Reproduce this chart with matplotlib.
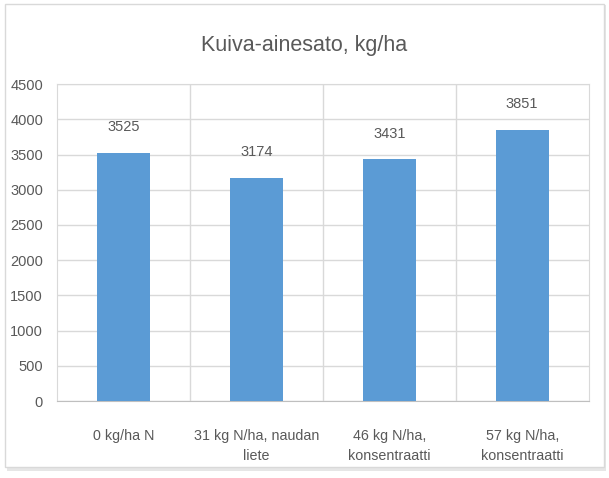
import matplotlib.pyplot as plt
from matplotlib.patches import Rectangle

plt.rcParams['font.family'] = ['Liberation Sans Narrow', 'Liberation Sans', 'DejaVu Sans']

categories = ['0 kg/ha N', '31 kg N/ha, naudan\nliete',
              '46 kg N/ha,\nkonsentraatti', '57 kg N/ha,\nkonsentraatti']
values = [3525, 3174, 3431, 3851]
yticks = [0, 500, 1000, 1500, 2000, 2500, 3000, 3500, 4000, 4500]

text_col = '#595959'
grid_col = '#D9D9D9'
bar_col = '#5B9BD5'

fig = plt.figure(figsize=(6.09, 4.78), dpi=100)

# chart border with a soft shadow
fig.patches.append(Rectangle((0.012, 0.015), 0.983, 0.975, transform=fig.transFigure,
                             facecolor='#E6E6E6', edgecolor='none', zorder=0))
fig.patches.append(Rectangle((0.008, 0.022), 0.983, 0.97, transform=fig.transFigure,
                             facecolor='white', edgecolor='#D9D9D9', lw=1, zorder=1))

ax = fig.add_axes([0.0936, 0.161, 0.873, 0.663])
ax.set_zorder(2)
ax.patch.set_alpha(0)

x = range(len(categories))
ax.bar(x, values, width=0.4, color=bar_col, zorder=3)
for xi, v in zip(x, values):
    ax.annotate(str(v), (xi, v), xytext=(0, 18.5), textcoords='offset points',
                ha='center', va='center', fontsize=10.5, color=text_col)

ax.set_xlim(-0.5, len(categories) - 0.5)
ax.set_ylim(0, 4500)
ax.set_yticks(yticks)
ax.set_yticklabels([str(t) for t in yticks], fontsize=10.5, color=text_col)
ax.set_xticks(list(x))
ax.set_xticklabels(categories, fontsize=10.3, color=text_col, linespacing=1.6)
ax.tick_params(axis='x', length=0, pad=20)
ax.tick_params(axis='y', length=0, pad=10)

ax.grid(axis='y', color=grid_col, lw=1, zorder=0)
for b in [0.5, 1.5, 2.5]:
    ax.axvline(b, color=grid_col, lw=1, zorder=0)
for side in ['left', 'right', 'top']:
    ax.spines[side].set_color(grid_col)
ax.spines['bottom'].set_color('#BFBFBF')

fig.text(0.5, 0.905, 'Kuiva-ainesato, kg/ha', ha='center', va='center',
         fontsize=15.5, color=text_col)

fig.savefig('out.png', dpi=100)
